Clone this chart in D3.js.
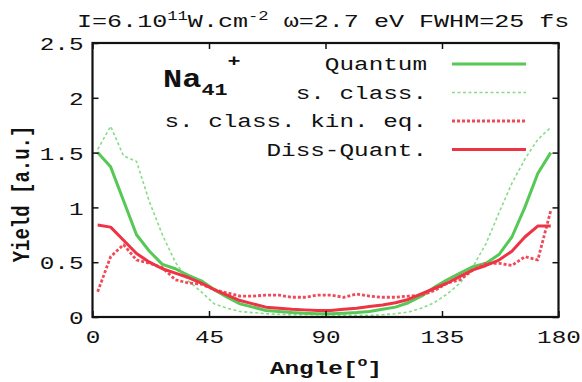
<!DOCTYPE html>
<html>
<head>
<meta charset="utf-8">
<script src="https://cdn.jsdelivr.net/npm/d3@7"></script>
<style>
  html, body { margin: 0; padding: 0; background: #fff; }
  svg { display: block; }
  text { font-family: "Liberation Mono", "DejaVu Sans Mono", monospace; fill: #111; }
</style>
</head>
<body>
<svg id="chart" width="582" height="382"></svg>
<script>
// ---------- data ----------
const angles = [2,7,12,17,22,27,32,37,42,47,52,57,62,67,72,77,82,87,92,97,102,107,112,117,122,127,132,137,142,147,152,157,162,167,172,177];
const quantum = [1.50,1.37,1.06,0.75,0.60,0.48,0.44,0.38,0.33,0.25,0.18,0.12,0.09,0.06,0.05,0.04,0.035,0.03,0.03,0.035,0.04,0.05,0.07,0.09,0.13,0.19,0.27,0.34,0.40,0.46,0.49,0.57,0.73,1.00,1.31,1.50];
const sClass = [1.53,1.74,1.47,1.42,1.05,0.75,0.50,0.33,0.23,0.12,0.08,0.05,0.04,0.03,0.025,0.02,0.02,0.02,0.02,0.015,0.015,0.015,0.02,0.03,0.045,0.08,0.13,0.21,0.31,0.46,0.67,0.95,1.22,1.44,1.62,1.73];
const sClassKin = [0.23,0.55,0.66,0.52,0.49,0.45,0.34,0.31,0.30,0.25,0.22,0.19,0.19,0.20,0.20,0.18,0.18,0.20,0.20,0.18,0.21,0.19,0.18,0.18,0.19,0.20,0.24,0.31,0.34,0.43,0.49,0.49,0.47,0.55,0.52,0.97];
const dissQuant = [0.84,0.82,0.70,0.58,0.50,0.44,0.40,0.36,0.31,0.25,0.20,0.15,0.12,0.09,0.08,0.07,0.065,0.06,0.06,0.07,0.08,0.095,0.11,0.13,0.16,0.21,0.26,0.31,0.37,0.43,0.47,0.52,0.60,0.73,0.83,0.83];
const seriesNames = ["Quantum","s. class.","s. class. kin. eq.","Diss-Quant."];
const xTicks = [0,45,90,135,180];
const yTicks = [0,0.5,1,1.5,2,2.5];
const yTickLabels = ["0","0.5","1","1.5","2","2.5"];

// ---------- setup ----------
const svg = d3.select("#chart");
const L = 92.5, R = 558.5, T = 43, B = 317;
const x = d3.scaleLinear().domain([0,180]).range([L,R]);
const y = d3.scaleLinear().domain([0,2.5]).range([B,T]);
const FS = 19, SX = 1.28;

const styles = [
  {data: sClass, color: "#86dd86", width: 1.6, dash: "3,2.5"},
  {data: quantum, color: "#55c855", width: 3, dash: null},
  {data: sClassKin, color: "#f04a5a", width: 2.8, dash: "3,2"},
  {data: dissQuant, color: "#ee3344", width: 3, dash: null}
];

// ---------- curves ----------
const line = d3.line().x((d,i)=>x(angles[i])).y(d=>y(d));
const plot = svg.append("g");
styles.forEach(s => {
  plot.append("path").datum(s.data)
    .attr("d", line).attr("fill","none")
    .attr("stroke", s.color).attr("stroke-width", s.width)
    .attr("stroke-dasharray", s.dash)
    .attr("stroke-linejoin","round");
});

// ---------- axes ----------
const axB = svg.append("g").attr("transform",`translate(0,${B})`)
  .call(d3.axisBottom(x).tickValues(xTicks).tickSizeInner(-6).tickSizeOuter(0));
axB.selectAll("text").attr("y", 26).attr("dy", 0)
  .attr("font-size", FS).attr("transform", `scale(${SX},1)`);
const axT = svg.append("g").attr("transform",`translate(0,${T})`)
  .call(d3.axisTop(x).tickValues(xTicks).tickSizeInner(-6).tickSizeOuter(0).tickFormat(""));
const axL = svg.append("g").attr("transform",`translate(${L},0)`)
  .call(d3.axisLeft(y).tickValues(yTicks).tickSizeInner(-6).tickSizeOuter(0).tickFormat((d,i)=>yTickLabels[i]));
axL.selectAll("text").attr("x", -9/SX).attr("dy", "0.35em")
  .attr("font-size", FS).attr("transform", `scale(${SX},1)`);
const axR = svg.append("g").attr("transform",`translate(${R},0)`)
  .call(d3.axisRight(y).tickValues(yTicks).tickSizeInner(-6).tickSizeOuter(0).tickFormat(""));
[axB, axT, axL, axR].forEach(a => {
  a.select(".domain").remove();
  a.selectAll("line").attr("stroke","#111").attr("stroke-width",1.5);
  a.selectAll("text").attr("fill","#111").attr("font-family","Liberation Mono, monospace");
});
svg.append("rect").attr("x",L).attr("y",T).attr("width",R-L).attr("height",B-T)
  .attr("fill","none").attr("stroke","#111").attr("stroke-width",2.2);

// ---------- titles ----------
const title = svg.append("g").attr("transform",`translate(77,27) scale(1.32,1)`)
  .append("text").attr("font-size", FS);
title.append("tspan").text("I=6.10");
title.append("tspan").attr("font-size", 13).attr("dy", -7).text("11");
title.append("tspan").attr("dy", 7).text("W.cm");
title.append("tspan").attr("font-size", 13).attr("dy", -7).text("-2");
title.append("tspan").attr("dy", 7).text(" ω=2.7 eV FWHM=25 fs");

const xl = svg.append("g").attr("transform",`translate(326,374) scale(${SX},1)`)
  .append("text").attr("font-size", FS).attr("font-weight","bold").attr("text-anchor","middle");
xl.append("tspan").text("Angle[");
xl.append("tspan").attr("font-size", 13).attr("dy", -8).text("o");
xl.append("tspan").attr("dy", 8).text("]");

svg.append("g").attr("transform",`translate(29,194) scale(${SX},1) rotate(-90)`)
  .append("text").attr("font-size", FS).attr("font-weight","bold").attr("text-anchor","middle")
  .text("Yield [a.u.]");

// Na41+
const na = svg.append("g").attr("transform",`translate(163,87) scale(${SX},1)`)
  .append("text").attr("font-weight","bold").attr("font-size", 25);
na.append("tspan").text("Na");
na.append("tspan").attr("font-size", 17).attr("dy", 8).text("41");
na.append("tspan").attr("font-size", 17).attr("dy", -29).text("+");

// ---------- legend ----------
const legendStyles = [styles[1], styles[0], styles[2], styles[3]];
seriesNames.forEach((name, i) => {
  const yy = 64 + i*28.5;
  svg.append("g").attr("transform",`translate(427,${yy+6}) scale(${SX},1)`)
    .append("text").attr("font-size", FS).attr("text-anchor","end").text(name);
  const s = legendStyles[i];
  svg.append("line").attr("x1",452).attr("x2",526).attr("y1",yy).attr("y2",yy)
    .attr("stroke", s.color).attr("stroke-width", s.width).attr("stroke-dasharray", s.dash);
});
</script>
</body>
</html>
